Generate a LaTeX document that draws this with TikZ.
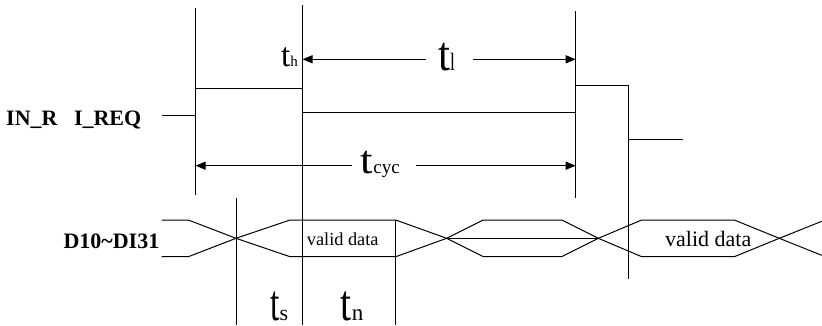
\documentclass[tikz,border=0pt]{standalone}
\usepackage{fontspec}
\usepackage{graphicx}
\setmainfont{Liberation Serif}
\usetikzlibrary{arrows.meta}
\newcommand\tbig[2]{\scalebox{#1}[#2]{\fontsize{10}{12}\selectfont t}}
\newcommand\tsub[2]{{\fontsize{#1}{#1}\selectfont #2}}
\begin{document}
\begin{tikzpicture}[x=1pt,y=-1pt,
  wire/.style={line width=1pt},
  dim/.style={line width=1pt,-{Triangle[length=10pt,width=8pt]}},
  lbl/.style={inner sep=0pt,anchor=base west},
  sig/.style={lbl,font=\bfseries\fontsize{22}{24}\selectfont}]
\useasboundingbox (0,0) rectangle (822,325);
% vertical reference lines
\coordinate (v1t) at (195.5,8);   \coordinate (v1b) at (195.5,195);
\coordinate (v2t) at (302.5,5);   \coordinate (v2b) at (302.5,325);
\coordinate (v3t) at (575.7,11);  \coordinate (v3b) at (575.7,198);
\coordinate (v4t) at (236,198);   \coordinate (v4b) at (236,325);
\coordinate (v5t) at (395.7,220); \coordinate (v5b) at (395.7,325);
\coordinate (v6t) at (628.7,85.7);\coordinate (v6b) at (628.7,279);
\foreach \a in {1,...,6} {\draw[wire] (v\a t) -- (v\a b);}
% IN_R I_REQ waveform
\draw[wire] (162,115.7) -- (195.5,115.7);
\draw[wire] (195.5,88.3) -- (302.5,88.3);
\draw[wire] (302.5,112.7) -- (575.7,112.7);
\draw[wire] (575.7,85.7) -- (628.7,85.7);
\draw[wire] (628.7,139.3) -- (682.7,139.3);
% data bus
\draw[wire] (161.7,220) -- (188.3,220) -- (236,238.3) -- (290,256.7) -- (395.7,256.7) -- (446.7,238.3)
  -- (483.3,220) -- (561.7,220) -- (598.3,238.3) -- (641.7,256.7) -- (734.3,256.7) -- (779.3,238.3) -- (821.7,221.3);
\draw[wire] (161.7,256.7) -- (188.3,256.7) -- (236,238.3) -- (290,220) -- (395.7,220) -- (446.7,238.3)
  -- (483.3,256.7) -- (561.7,256.7) -- (598.3,238.3) -- (641.7,220) -- (734.3,220) -- (779.3,238.3) -- (821.7,255.3);
\draw[wire] (446.7,238.3) -- (598.3,238.3);
% dimension arrows
\coordinate (tla) at (426,59.3); \coordinate (tlb) at (473,59.3);
\coordinate (tca) at (352,165.7); \coordinate (tcb) at (416,165.7);
\draw[dim] (tla) -- (302.5,59.3);
\draw[dim] (tlb) -- (575.7,59.3);
\draw[dim] (tca) -- (195.5,165.7);
\draw[dim] (tcb) -- (575.7,165.7);
% labels
\node[lbl] (th) at (281,66) {\tbig{3.3}{3.35}\tsub{15}{h}};
\node[lbl] (tl) at (438,70) {\tbig{4.3}{4.84}\scalebox{0.7}[1]{\tsub{25}{l}}};
\node[lbl] (tcyc) at (360.7,173.3) {\tbig{4.5}{3.97}\tsub{19}{cyc}};
\node[lbl] (ts) at (270,320.5) {\tbig{3.35}{5.1}\tsub{22}{s}};
\node[lbl] (tn) at (340.7,320.5) {\tbig{3.96}{5.1}\tsub{23}{n}};
\node[sig] (inr) at (6,125) {IN\_R\ \ \ I\_REQ};
\node[sig] (dbus) at (63.3,248.3) {D10\textasciitilde DI31};
\node[lbl,font=\fontsize{18.3}{20}\selectfont] (vd1) at (306.7,245) {valid data};
\node[lbl,font=\fontsize{22}{24}\selectfont] (vd2) at (665,246.7) {valid data};
\end{tikzpicture}
\end{document}
